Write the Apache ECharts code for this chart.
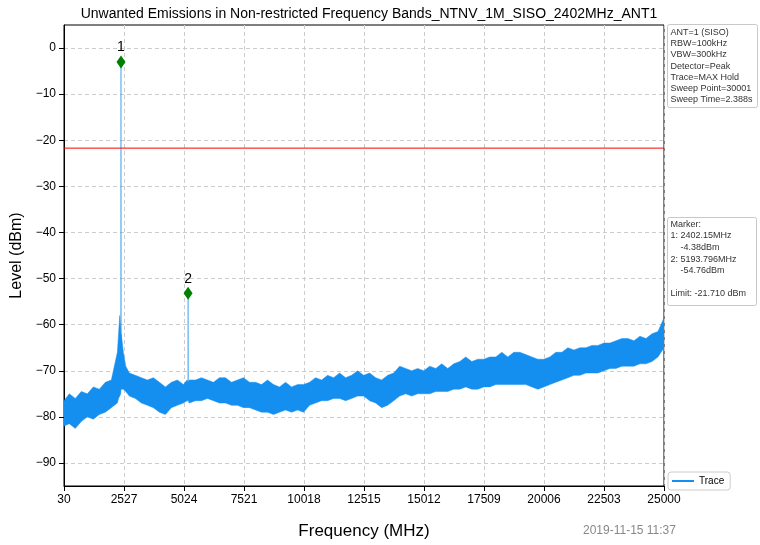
<!DOCTYPE html>
<html>
<head>
<meta charset="utf-8">
<script src="https://cdn.jsdelivr.net/npm/echarts@6/dist/echarts.min.js"></script>
<style>
html,body{margin:0;padding:0;background:#fff;}
#chart{width:760px;height:545px;}
</style>
</head>
<body>
<div id="chart"></div>
<script>
// trace envelope (MHz / dBm)
var freqMHz = [30,250,500,750,1000,1250,1500,1750,2000,2250,2300,2350,2390,2398,2402,2406,2415,2500,2600,2750,
  3000,3250,3500,3750,4000,4250,4500,4750,5000,5150,5190,5194,5198,5240,5500,5750,6000,6250,6500,6750,7000,7250,7500,7750,
  8000,8250,8500,8750,9000,9250,9500,9750,10000,10250,10500,10750,11000,11250,11500,11750,12000,12250,12500,12750,
  13000,13250,13500,13750,14000,14250,14500,14750,15000,15250,15500,15750,16000,16250,16500,16750,17000,17250,17500,17750,
  18000,18250,18500,18750,19000,19250,19500,19750,20000,20250,20500,20750,21000,21250,21500,21750,22000,22250,22500,22750,
  23000,23250,23500,23750,24000,24250,24500,24750,25000];
var traceHigh = [-76.5,-75,-76,-74.5,-75,-73.5,-74,-72.5,-72,-66,-62,-58,-61,-63,-3,-63,-62,-66,-69,-70.5,
  -71,-71.5,-72,-71.5,-72.5,-73.5,-72.5,-72,-73,-72,-72.5,-53.2,-72.5,-72,-72,-71.5,-72,-72.5,-71.5,-71.5,-72.5,-72,-71.5,-72.5,
  -72.5,-73,-72,-73,-73.5,-72.5,-73.5,-73,-73,-72.5,-71.5,-72,-71,-71.5,-70.5,-71.5,-71,-70,-71,-70.5,
  -71.5,-72,-71,-70.5,-69,-69.5,-70,-69.5,-70,-69,-69.5,-68.5,-69.5,-68.5,-68,-67,-68,-67.5,-67.5,-67,
  -67,-66,-67,-66,-66,-66.5,-67,-67.5,-67.5,-67,-66,-66,-65,-65.5,-65,-65,-64.5,-64.5,-64,-64,
  -63.5,-63,-63,-63.5,-62.5,-63,-62,-61.5,-58.5];
var traceLow = [-82,-81.5,-82.5,-81,-80,-80.5,-79.5,-79,-78,-77,-76,-75.5,-75,-74.5,-74,-74,-74,-74,-74.5,-75.5,
  -76,-77,-77.5,-78,-79,-79.5,-78,-77.5,-77,-76.5,-76.5,-76.5,-76.5,-77,-76.5,-76.5,-76,-76.5,-77,-77,-77.5,-77.5,-78,-78,
  -78.5,-79,-79,-79.5,-79,-78.5,-79,-78.5,-79,-77.5,-77,-76.5,-76.5,-76,-76,-76.5,-76,-75.5,-75.5,-76.5,
  -77,-78,-77.5,-76.5,-75.5,-75,-75.5,-75,-75,-75,-74.5,-74.5,-74.5,-74,-74,-73.5,-74,-74,-73.5,-73.5,
  -73,-73,-73,-73,-73,-73,-73.5,-74,-73.5,-73,-72.5,-72,-71.5,-71,-71,-70.5,-70.5,-70.5,-70,-69.5,
  -69.5,-69,-69,-69,-68.5,-68.5,-68,-67,-65];

var xTicks = [30,2527,5024,7521,10018,12515,15012,17509,20006,22503,25000];
var yTicks = [-90,-80,-70,-60,-50,-40,-30,-20,-10,0];
var limitLevel = -21.71;
var markerFreq = [2402.15, 5193.796];
var markerLevel = [-3, -53.2];   // drawn positions
var markerName = ['1', '2'];

var infoLines = ['ANT=1 (SISO)','RBW=100kHz','VBW=300kHz','Detector=Peak','Trace=MAX Hold','Sweep Point=30001','Sweep Time=2.388s'];
var markerLines = ['Marker:','1: 2402.15MHz','    -4.38dBm','2: 5193.796MHz','    -54.76dBm','','Limit: -21.710 dBm'];

var lowData = [], highData = [], bandData = [];
for (var i = 0; i < freqMHz.length; i++) {
  lowData.push([freqMHz[i], traceLow[i]]);
  highData.push([freqMHz[i], traceHigh[i]]);
  bandData.push([freqMHz[i], traceLow[i], traceHigh[i]]);
}
var markerData = [];
for (var k = 0; k < markerFreq.length; k++) {
  markerData.push({value: [markerFreq[k], markerLevel[k]], name: markerName[k]});
}

var FONT = '"Liberation Sans", Arial, sans-serif';
var traceColor = '#148ff0';

// fill between low and high envelope as one polygon
function renderBand(params, api) {
  if (params.dataIndex !== 0) return null;
  var pts = [];
  for (var j = 0; j < freqMHz.length; j++) pts.push(api.coord([freqMHz[j], traceHigh[j]]));
  for (var j2 = freqMHz.length - 1; j2 >= 0; j2--) pts.push(api.coord([freqMHz[j2], traceLow[j2]]));
  return {
    type: 'polygon',
    shape: {points: pts},
    style: {fill: traceColor}
  };
}

var chart = echarts.init(document.getElementById('chart'));
chart.setOption({
  animation: false,
  textStyle: {fontFamily: FONT},
  title: {
    text: 'Unwanted Emissions in Non-restricted Frequency Bands_NTNV_1M_SISO_2402MHz_ANT1',
    left: 364, top: 2, textAlign: 'center',
    textStyle: {fontSize: 14, fontWeight: 'normal', color: '#000', fontFamily: FONT}
  },
  grid: {left: 64, right: 96, top: 25, bottom: 54, show: true, borderColor: '#000', borderWidth: 1, backgroundColor: 'transparent'},
  legend: {
    data: ['Trace'], left: 668, top: 472, orient: 'vertical',
    itemWidth: 22, itemHeight: 2, itemGap: 4,
    padding: [4, 6, 4, 4], borderColor: '#ccc', borderWidth: 1, borderRadius: 3,
    icon: 'rect',
    textStyle: {fontSize: 10, color: '#000', fontFamily: FONT}
  },
  xAxis: {
    type: 'value', min: 30, max: 25000,
    name: 'Frequency (MHz)', nameLocation: 'middle', nameGap: 37,
    nameTextStyle: {fontSize: 17, color: '#000', fontFamily: FONT},
    axisLine: {onZero: false, lineStyle: {color: '#000'}},
    axisTick: {customValues: xTicks, length: 5, lineStyle: {color: '#000'}},
    axisLabel: {customValues: xTicks, fontSize: 12, color: '#000', margin: 8, fontFamily: FONT,
      formatter: function (v) { return String(v); }},
    splitLine: {show: true, lineStyle: {color: '#cccccc', type: [4, 3]}}
  },
  yAxis: {
    type: 'value', min: -95, max: 5,
    name: 'Level (dBm)', nameLocation: 'middle', nameGap: 32,
    nameTextStyle: {fontSize: 16, color: '#000', fontFamily: FONT},
    axisLine: {onZero: false, lineStyle: {color: '#000'}},
    axisTick: {customValues: yTicks, length: 5, lineStyle: {color: '#000'}},
    axisLabel: {customValues: yTicks, fontSize: 12, color: '#000', margin: 8, fontFamily: FONT,
      formatter: function (v) { return String(v).replace('-', '\u2212'); }},
    splitLine: {show: true, lineStyle: {color: '#cccccc', type: [4, 3]}}
  },
  series: [
    {
      name: 'band', type: 'custom', data: bandData, renderItem: renderBand,
      encode: {x: 0, y: [1, 2]}, silent: true, z: 2
    },
    {
      name: 'low', type: 'line', data: lowData, symbol: 'none',
      lineStyle: {color: traceColor, width: 0.8, opacity: 0.6}, silent: true, z: 3
    },
    {
      name: 'Trace', type: 'line', data: highData, symbol: 'none',
      lineStyle: {color: traceColor, width: 0.8, opacity: 0.6},
      itemStyle: {color: traceColor}, z: 3
    },
    {
      name: 'Limit', type: 'line', symbol: 'none',
      data: [[30, limitLevel], [25000, limitLevel]],
      lineStyle: {color: '#ff0000', width: 1}, z: 4
    },
    {
      name: 'Markers', type: 'scatter', data: markerData,
      symbol: 'diamond', symbolSize: [9, 13], z: 5,
      itemStyle: {color: '#008000', opacity: 1},
      label: {show: true, position: 'top', distance: 1, formatter: '{b}', fontSize: 14, color: '#000', fontFamily: FONT}
    }
  ],
  graphic: [
    {
      type: 'group', left: 667, top: 24,
      children: [
        {type: 'rect', shape: {x: 0, y: 0, width: 90, height: 83, r: 2}, style: {fill: '#fff', stroke: '#c8c8c8', lineWidth: 1}},
        {type: 'text', left: 3, top: 2, style: {text: infoLines.join('\n'), font: '9px ' + FONT, lineHeight: 11.3, fill: '#333'}}
      ]
    },
    {
      type: 'group', left: 667, top: 217,
      children: [
        {type: 'rect', shape: {x: 0, y: 0, width: 89, height: 88, r: 2}, style: {fill: '#fff', stroke: '#c8c8c8', lineWidth: 1}},
        {type: 'text', left: 3, top: 1, style: {text: markerLines.join('\n'), font: '9px ' + FONT, lineHeight: 11.6, fill: '#333'}}
      ]
    },
    {
      type: 'text', left: 583, top: 525,
      style: {text: '2019-11-15 11:37', font: '12px ' + FONT, fill: '#888'}
    }
  ]
});
</script>
</body>
</html>
